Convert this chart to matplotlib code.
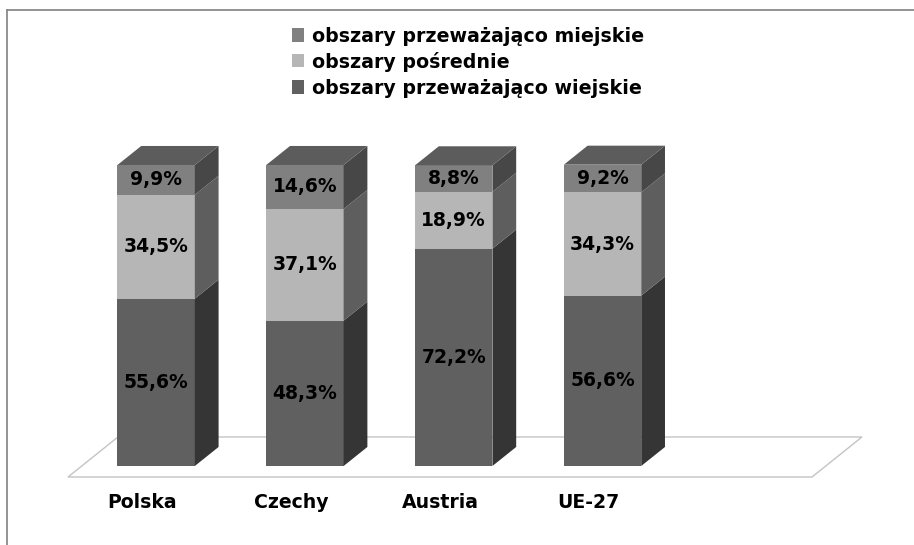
import matplotlib.pyplot as plt
from matplotlib.patches import Polygon
from matplotlib.lines import Line2D

categories = ["Polska", "Czechy", "Austria", "UE-27"]
series_names = ["obszary przeważająco wiejskie", "obszary pośrednie", "obszary przeważająco miejskie"]
wiejskie = [55.6, 48.3, 72.2, 56.6]
posrednie = [34.5, 37.1, 18.9, 34.3]
miejskie = [9.9, 14.6, 8.8, 9.2]
series = [wiejskie, posrednie, miejskie]

front_colors = ["#606060", "#b6b6b6", "#808080"]
side_colors = ["#353535", "#5e5e5e", "#474747"]
cap_color = "#5c5c5c"

N_SLOTS = 5            # floor holds one empty slot at the right
BAR_W = 0.52
DX, DY = 0.336, 13.3   # full floor depth offset in data units
D0, D1 = 0.275, 0.75   # bar depth span on the floor


def proj(x, h, d):
    return (x + d * DX, h + d * DY)


fig = plt.figure(figsize=(9.14, 5.45), dpi=100)
ax = fig.add_axes([0, 0, 1, 1])
ax.set_xlim(-68 / 148.8, (914 - 68) / 148.8)
ax.set_ylim((477 - 545) / 3.01, 477 / 3.01)
ax.axis("off")

# floor
floor = [proj(0, 0, 0), proj(N_SLOTS, 0, 0), proj(N_SLOTS, 0, 1), proj(0, 0, 1)]
ax.add_patch(Polygon(floor, closed=True, facecolor="white", edgecolor="#c4c4c4", lw=1.0, zorder=1))

for i, cat in enumerate(categories):
    c = i + 0.5
    x0, x1 = c - BAR_W / 2, c + BAR_W / 2
    base = 0.0
    for k, vals in enumerate(series):
        v = vals[i]
        top = base + v
        front = [proj(x0, base, D0), proj(x1, base, D0), proj(x1, top, D0), proj(x0, top, D0)]
        side = [proj(x1, base, D0), proj(x1, base, D1), proj(x1, top, D1), proj(x1, top, D0)]
        ax.add_patch(Polygon(front, closed=True, facecolor=front_colors[k], edgecolor="none", zorder=3))
        ax.add_patch(Polygon(side, closed=True, facecolor=side_colors[k], edgecolor="none", zorder=3))
        lx, ly = proj(c, base + v / 2, D0)
        ax.text(lx, ly, f"{v:.1f}%".replace(".", ","), ha="center", va="center",
                fontsize=13.5, fontweight="bold", color="black", zorder=5)
        base = top
    cap = [proj(x0, base, D0), proj(x1, base, D0), proj(x1, base, D1), proj(x0, base, D1)]
    ax.add_patch(Polygon(cap, closed=True, facecolor=cap_color, edgecolor="none", zorder=3))
    ax.text(c, -8.4, cat, ha="center", va="center", fontsize=13.6, fontweight="bold", zorder=5)

# legend (top series first)
leg_y = [1 - 35 / 545, 1 - 61 / 545, 1 - 87 / 545]
for j, k in enumerate([2, 1, 0]):
    fig.patches.append(plt.Rectangle((292 / 914, leg_y[j] - 6.5 / 545), 12 / 914, 13 / 545,
                                     transform=fig.transFigure, facecolor=front_colors[k],
                                     edgecolor="none"))
    fig.text(312 / 914, leg_y[j] - 1.5 / 545, series_names[k], ha="left", va="center",
             fontsize=13.7, fontweight="bold")

# frame lines (top and left)
fig.add_artist(Line2D([7 / 914, 1], [1 - 10 / 545, 1 - 10 / 545], color="#8a8a8a", lw=1.3))
fig.add_artist(Line2D([7 / 914, 7 / 914], [0, 1 - 10 / 545], color="#8a8a8a", lw=1.3))

fig.savefig("out.png", dpi=100)
